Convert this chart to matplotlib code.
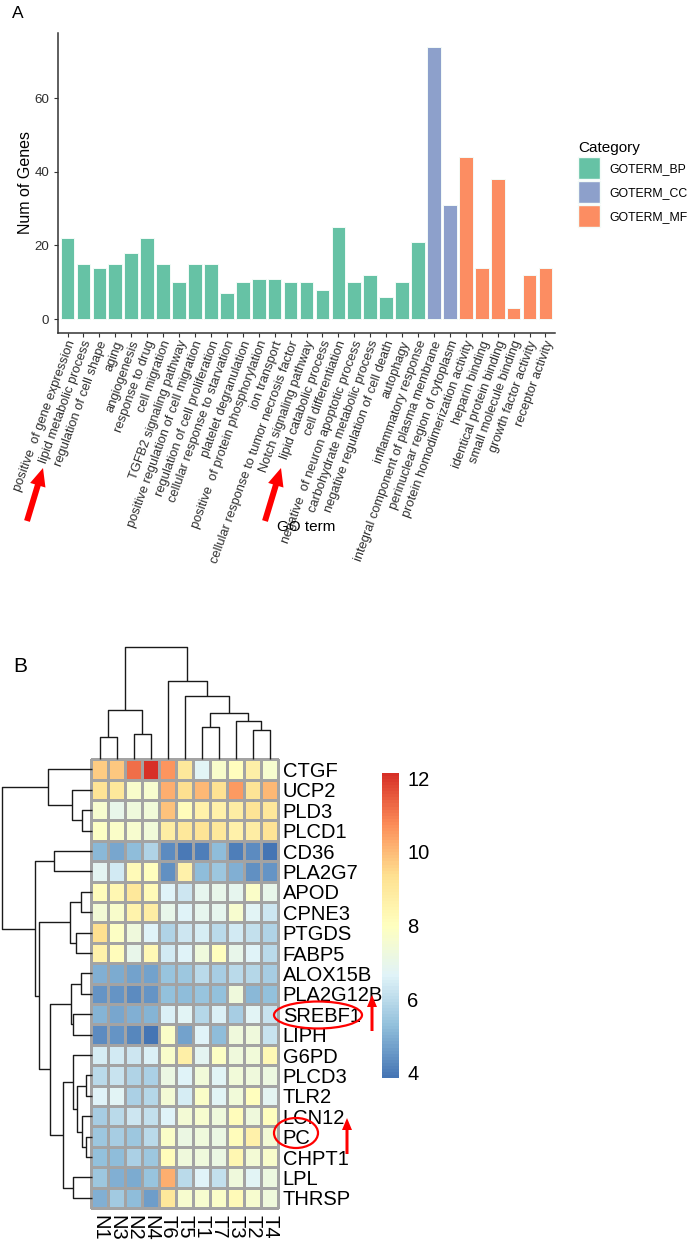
import matplotlib
matplotlib.use('Agg')
import matplotlib.pyplot as plt
from matplotlib.colors import LinearSegmentedColormap
from matplotlib.patches import Patch, Ellipse, FancyArrow
from matplotlib.transforms import ScaledTranslation
import numpy as np

plt.rcParams['font.family'] = ['Liberation Sans', 'DejaVu Sans']
NARROW = ['Liberation Sans Narrow', 'Liberation Sans', 'DejaVu Sans']

W, H = 688, 1241

# ---- panel A: GO enrichment counts ----
bp_terms = ['positive  of gene expression', 'lipid metabolic process', 'regulation of cell shape',
            'aging', 'angiogenesis', 'response to drug', 'cell migration',
            'TGFB2 signaling pathway', 'positive regulation of cell migration',
            'regulation of cell proliferation', 'cellular response to starvation',
            'platelet degranulation', 'positive  of protein phosphorylation', 'ion transport',
            'cellular response to tumor necrosis factor', 'Notch signaling pathway',
            'lipid catabolic process', 'cell differentiation',
            'negative  of neuron apoptotic process', 'carbohydrate metabolic process',
            'negative regulation of cell death', 'autophagy', 'inflammatory response']
bp_counts = [22, 15, 14, 15, 18, 22, 15, 10, 15, 15, 7, 10, 11, 11, 10, 10, 8, 25, 10, 12, 6, 10, 21]
cc_terms = ['integral component of plasma membrane', 'perinuclear region of cytoplasm']
cc_counts = [74, 31]
mf_terms = ['protein homodimerization activity', 'heparin binding', 'identical protein binding',
            'small molecule binding', 'growth factor activity', 'receptor activity']
mf_counts = [44, 14, 38, 3, 12, 14]
categories = ['GOTERM_BP', 'GOTERM_CC', 'GOTERM_MF']
cat_colors = ['#66C2A5', '#8DA0CB', '#FC8D62']

# ---- panel B: expression heatmap ----
samples = ['N1', 'N3', 'N2', 'N4', 'T6', 'T5', 'T1', 'T7', 'T3', 'T2', 'T4']
genes = ['CTGF', 'UCP2', 'PLD3', 'PLCD1', 'CD36', 'PLA2G7', 'APOD', 'CPNE3', 'PTGDS', 'FABP5',
         'ALOX15B', 'PLA2G12B', 'SREBF1', 'LIPH', 'G6PD', 'PLCD3', 'TLR2', 'LCN12', 'PC',
         'CHPT1', 'LPL', 'THRSP']
expr = np.array([
    [9.7, 9.8, 11.2, 12.1, 10.6, 9.0, 6.7, 7.7, 8.0, 8.7, 7.6],
    [9.2, 9.0, 7.7, 7.6, 10.2, 9.4, 10.0, 9.3, 10.5, 9.2, 10.0],
    [7.6, 7.0, 7.3, 7.4, 9.9, 8.1, 8.6, 8.6, 8.8, 9.2, 9.0],
    [7.9, 7.8, 7.6, 7.4, 8.8, 9.0, 9.2, 9.0, 8.6, 8.8, 9.2],
    [5.15, 4.8, 5.2, 5.8, 4.3, 4.0, 4.1, 5.2, 4.1, 4.3, 3.86],
    [6.8, 6.4, 8.2, 8.0, 4.4, 8.6, 5.2, 5.5, 4.95, 4.4, 4.5],
    [8.1, 8.4, 9.0, 8.2, 6.6, 6.3, 6.9, 7.0, 6.9, 7.8, 7.0],
    [7.5, 7.7, 8.5, 8.8, 7.0, 6.6, 6.9, 6.9, 7.6, 6.7, 6.3],
    [9.4, 7.9, 7.3, 6.6, 5.8, 6.3, 6.5, 6.0, 6.4, 6.1, 5.8],
    [8.6, 8.1, 7.0, 8.3, 6.4, 6.6, 7.3, 8.0, 7.0, 6.6, 6.0],
    [5.0, 4.9, 4.7, 4.75, 5.4, 5.5, 6.0, 5.65, 6.0, 5.85, 5.65],
    [4.5, 4.45, 4.3, 4.5, 5.3, 5.2, 5.4, 5.3, 7.3, 5.15, 5.3],
    [5.05, 4.8, 4.95, 5.05, 6.55, 6.7, 5.85, 6.55, 5.65, 6.7, 6.2],
    [4.3, 4.5, 4.2, 3.9, 7.8, 4.7, 6.6, 5.2, 7.3, 7.3, 6.2],
    [6.45, 6.4, 6.3, 6.55, 7.7, 8.7, 6.8, 7.9, 7.3, 7.4, 8.3],
    [6.0, 6.2, 5.8, 5.7, 7.1, 6.6, 7.4, 6.7, 7.4, 7.3, 7.2],
    [6.6, 6.75, 5.7, 5.85, 7.5, 6.45, 7.8, 6.7, 7.4, 8.0, 6.8],
    [5.6, 6.0, 6.3, 6.15, 6.65, 7.5, 7.6, 7.3, 8.1, 7.3, 8.05],
    [5.5, 5.65, 5.5, 6.0, 7.8, 7.1, 7.3, 7.1, 8.1, 8.6, 7.5],
    [5.3, 5.2, 5.7, 5.5, 8.1, 7.3, 7.3, 7.1, 8.4, 7.5, 7.7],
    [5.5, 4.95, 4.9, 5.4, 10.2, 6.0, 6.65, 6.15, 7.3, 6.7, 7.2],
    [4.95, 5.55, 5.2, 4.65, 9.0, 7.6, 7.6, 7.8, 8.2, 7.6, 7.3],
])
scale_min, scale_max = 3.86, 12.14
cbar_ticks = [4, 6, 8, 10, 12]

# hierarchical merges: (child a, child b, height); ids >= n are earlier merges
col_merges = [(0, 1, 68), (2, 3, 76), (11, 12, 148), (6, 7, 96), (9, 10, 88),
              (8, 15, 115), (14, 16, 140), (5, 17, 188), (4, 18, 233), (13, 19, 336)]
row_merges = [(2, 3, 30), (1, 22, 60), (0, 23, 132), (4, 5, 112), (6, 7, 33), (8, 9, 47),
              (26, 27, 65), (10, 11, 33), (12, 13, 57), (29, 30, 61), (15, 16, 17),
              (18, 19, 17), (17, 33, 30), (32, 34, 43), (14, 35, 55), (20, 21, 55),
              (36, 37, 85), (31, 38, 125), (28, 39, 158), (25, 40, 170), (24, 41, 270)]

fig = plt.figure(figsize=(W / 100, H / 100), dpi=100)


def px_axes(x0, y0, x1, y1):
    return fig.add_axes([x0 / W, 1 - y1 / H, (x1 - x0) / W, (y1 - y0) / H])


def dendro_segments(merges, n):
    pos = {i: i + 0.5 for i in range(n)}
    hgt = {i: 0.0 for i in range(n)}
    segs = []
    for k, (a, b, h) in enumerate(merges):
        segs.append(([pos[a], pos[a], pos[b], pos[b]], [hgt[a], h, h, hgt[b]]))
        pos[n + k] = (pos[a] + pos[b]) / 2
        hgt[n + k] = h
    return segs


# ---------------- panel A ----------------
terms = bp_terms + cc_terms + mf_terms
counts = bp_counts + cc_counts + mf_counts
bar_colors = ([cat_colors[0]] * len(bp_terms) + [cat_colors[1]] * len(cc_terms)
              + [cat_colors[2]] * len(mf_terms))
x = np.arange(len(terms))

ax = px_axes(58, 33, 555, 332.7)
ax.bar(x, counts, width=0.86, color=bar_colors, edgecolor='#F4FBF8', linewidth=0.7)
ax.set_xlim(-0.6, len(terms) - 0.4)
ax.set_ylim(-3.7, 77.7)
ax.set_yticks([0, 20, 40, 60])
ax.set_xticks(x)
ax.set_xticklabels(terms, rotation=70, ha='right', va='center', rotation_mode='anchor')
for s in ['top', 'right']:
    ax.spines[s].set_visible(False)
for s in ['left', 'bottom']:
    ax.spines[s].set_color('#333333')
    ax.spines[s].set_linewidth(1.1)
ax.tick_params(axis='both', length=3, width=0.8, color='#333333', labelcolor='#2E2E2E')
ax.tick_params(axis='x', pad=3, labelsize=9.3)
ax.tick_params(axis='y', labelsize=9.6)
# nudge rotated labels a little to the right, as in the original
shift = ScaledTranslation(0.045, 0, fig.dpi_scale_trans)
for lab in ax.get_xticklabels():
    lab.set_transform(lab.get_transform() + shift)
ax.set_ylabel('Num of Genes', fontsize=11.5)
ax.yaxis.set_label_coords(-0.05, 0.5)
ax.set_xlabel('GO term', fontsize=11)
ax.xaxis.set_label_coords(0.5, -0.625)

handles = [Patch(facecolor=c, edgecolor='#F4FBF8', label=l) for c, l in zip(cat_colors, categories)]
ax.legend(handles=handles, title='Category', loc='upper left',
          bbox_to_anchor=(578 / W, 1 - 141 / H), bbox_transform=fig.transFigure,
          frameon=False, fontsize=8.8, title_fontsize=11, handlelength=1.8, handleheight=2.4,
          handletextpad=0.75, labelspacing=0.16, borderaxespad=0, borderpad=0,
          alignment='left')

fig.text(12 / W, 1 - 18 / H, 'A', fontsize=12.5, ha='left', va='baseline')

# ---------------- panel B ----------------
hm_x0, hm_y0, hm_x1, hm_y1 = 91.5, 759.3, 278, 1208
cmap = LinearSegmentedColormap.from_list(
    'rdylbu_r', ['#4575B4', '#91BFDB', '#E0F3F8', '#FFFFBF', '#FEE090', '#FC8D59', '#D73027'], N=100)

ax_hm = px_axes(hm_x0, hm_y0, hm_x1, hm_y1)
mesh = ax_hm.pcolormesh(expr, cmap=cmap, vmin=scale_min, vmax=scale_max,
                        edgecolors='#A3A3A3', linewidth=1.0)
mesh.set_clip_on(False)
ax_hm.set_xlim(0, len(samples))
ax_hm.set_ylim(len(genes), 0)
for s in ax_hm.spines.values():
    s.set_visible(False)
ax_hm.yaxis.tick_right()
ax_hm.set_yticks(np.arange(len(genes)) + 0.5)
ax_hm.set_yticklabels(genes, fontsize=14.5, fontfamily=NARROW)
ax_hm.set_xticks(np.arange(len(samples)) + 0.5)
ax_hm.set_xticklabels(samples, fontsize=14.5, fontfamily=NARROW, rotation=270)
ax_hm.tick_params(axis='both', length=0)
ax_hm.tick_params(axis='y', pad=3.5)
ax_hm.tick_params(axis='x', pad=5)

# column dendrogram
ax_top = px_axes(hm_x0, 647, hm_x1, hm_y0)
for xs, ys in dendro_segments(col_merges, len(samples)):
    ax_top.plot(xs, ys, color='#1A1A1A', lw=1.0, clip_on=False, solid_capstyle='butt')
ax_top.set_xlim(0, len(samples))
ax_top.set_ylim(0, 336)
ax_top.axis('off')

# row dendrogram
ax_left = px_axes(1.7, hm_y0, hm_x0, hm_y1)
for ys, xs in dendro_segments(row_merges, len(genes)):
    ax_left.plot(xs, ys, color='#1A1A1A', lw=1.0, clip_on=False, solid_capstyle='butt')
ax_left.set_xlim(270, 0)
ax_left.set_ylim(len(genes), 0)
ax_left.axis('off')

# colour legend
cax = px_axes(382, 773, 399, 1078)
cb = fig.colorbar(mesh, cax=cax)
cb.outline.set_visible(False)
cb.set_ticks(cbar_ticks, labels=[str(t) for t in cbar_ticks], fontsize=14.5, fontfamily=NARROW)
cax.tick_params(length=0, pad=6)

fig.text(13 / W, 1 - 672 / H, 'B', fontsize=15, ha='left', va='baseline')

# ---------------- red annotations ----------------
ov = fig.add_axes([0, 0, 1, 1])
ov.set_xlim(0, W)
ov.set_ylim(H, 0)
ov.axis('off')
for tail, tip in [((27, 521), (43, 468)), ((265, 521), (281, 468))]:
    ov.add_patch(FancyArrow(tail[0], tail[1], tip[0] - tail[0], tip[1] - tail[1], width=6,
                            head_width=16, head_length=18, length_includes_head=True,
                            color='#FF0000', lw=0))
for xa, y_tail, y_tip in [(372, 1031, 995), (347, 1154, 1118)]:
    ov.add_patch(FancyArrow(xa, y_tail, 0, y_tip - y_tail, width=3, head_width=10,
                            head_length=12, length_includes_head=True, color='#FF0000', lw=0))
ov.add_patch(Ellipse((318, 1015), 88, 27, fill=False, edgecolor='#FF0000', lw=1.6))
ov.add_patch(Ellipse((296, 1133), 44, 30, fill=False, edgecolor='#FF0000', lw=1.6))

fig.savefig('out.png', dpi=100)
